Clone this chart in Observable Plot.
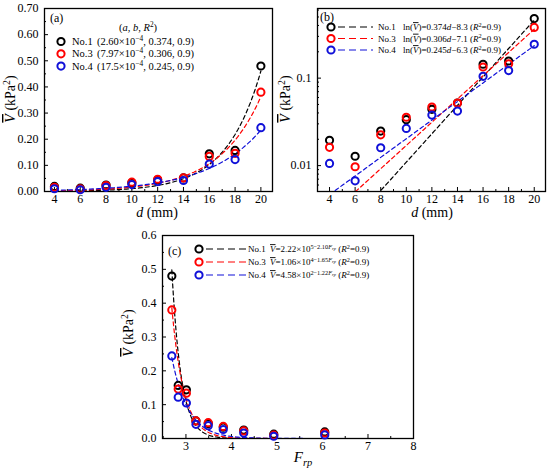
<!DOCTYPE html>
<html><head><meta charset="utf-8">
<script src="https://cdn.jsdelivr.net/npm/d3@7"></script>
<script src="https://cdn.jsdelivr.net/npm/@observablehq/plot@0.6"></script>
<style>
body{margin:0;background:#fff}
#wrap{position:relative;width:550px;height:473px;overflow:hidden;background:#fff}
#wrap svg{position:absolute;font-family:"Liberation Serif","Times New Roman",serif}
</style></head><body><div id="wrap"></div>
<script>
// ---------- data ----------
const dValues = [4, 6, 8, 10, 12, 14, 16, 18, 20];
const frpValues = [6.05, 4.93, 4.27, 3.82, 3.49, 3.22, 3.01, 2.83, 2.69];
const series = ["No.1", "No.3", "No.4"];
const colors = ["#000000", "#ff0000", "#1010d8"];
const vNo1 = [0.0195, 0.0128, 0.0248, 0.0335, 0.0440, 0.0520, 0.144, 0.157, 0.480];
const vNo3 = [0.0162, 0.0097, 0.0225, 0.0357, 0.0468, 0.0520, 0.134, 0.146, 0.380];
const vNo4 = [0.0106, 0.0067, 0.0160, 0.0266, 0.0378, 0.0420, 0.105, 0.122, 0.244];
// exponential fit V = a·exp(b·d)
const fitA = [2.60e-4, 7.97e-4, 17.5e-4];
const fitAText = ["2.60", "7.97", "17.5"];
const fitB = [0.374, 0.306, 0.245];
const fitR2 = [0.9, 0.9, 0.9];
const lnIntercept = ["8.3", "7.1", "6.3"];
// fit V = c·10^(e − k·Frp)
const fitC = [2.22, 1.06, 4.58];
const fitE = [5, 4, 2];
const fitK = [2.10, 1.65, 1.22];
// ticks
const dTicks = [4, 6, 8, 10, 12, 14, 16, 18, 20];
const dMinor = [5, 7, 9, 11, 13, 15, 17, 19];
const vTicksA = [0, 0.1, 0.2, 0.3, 0.4, 0.5, 0.6, 0.7];
const vMinorA = [0.05, 0.15, 0.25, 0.35, 0.45, 0.55, 0.65];
const vTicksB = [0.01, 0.1];
const vMinorB = [0.006, 0.007, 0.008, 0.009, 0.02, 0.03, 0.04, 0.05, 0.06, 0.07, 0.08, 0.09, 0.2, 0.3, 0.4, 0.5, 0.6];
const fTicks = [3, 4, 5, 6, 7, 8];
const fMinor = [2.5, 3.5, 4.5, 5.5, 6.5, 7.5];
const vTicksC = [0, 0.1, 0.2, 0.3, 0.4, 0.5, 0.6];
const vMinorC = [0.05, 0.15, 0.25, 0.35, 0.45, 0.55];

// ---------- tables ----------
const vals = [vNo1, vNo3, vNo4];
const points = series.flatMap((s, i) => dValues.map((d, j) => ({s, d, F: frpValues[j], v: vals[i][j]})));
const curvesD = series.flatMap((s, i) => d3.range(4, 20.001, 0.2).map(d => ({s, d, v: fitA[i] * Math.exp(fitB[i] * d)})));
const curvesF = series.flatMap((s, i) => d3.range(frpValues[8], frpValues[0] + 0.001, 0.02).map(F => ({s, F, v: fitC[i] * Math.pow(10, fitE[i] - fitK[i] * F)})));

const FONT = "Liberation Serif";
const colorScale = {domain: series, range: colors};

function axesMarks(xT, xM, yT, yM, xFmt, yFmt) {
  return [
    Plot.axisX(xT, {tickSize: -4, tickPadding: 7, tickFormat: xFmt, label: null, fontSize: 12}),
    Plot.axisX(xM, {tickSize: -2, tickFormat: () => "", label: null}),
    Plot.axisY(yT, {tickSize: -4, tickPadding: 10, tickFormat: yFmt, label: null, fontSize: 12}),
    Plot.axisY(yM, {tickSize: -2, tickFormat: () => "", label: null}),
    Plot.frame({stroke: "black", strokeWidth: 1.3})
  ];
}

function rich(svg, x, y, parts, {size = 12, anchor = "start", rotate = 0} = {}) {
  const t = d3.select(svg).append("text")
    .attr("x", x).attr("y", y).attr("font-size", size).attr("text-anchor", anchor)
    .attr("fill", "black").attr("font-family", FONT);
  if (rotate) t.attr("transform", `rotate(${rotate},${x},${y})`);
  let shift = 0;
  for (const p of parts) {
    const s = typeof p === "string" ? {t: p} : p;
    const ts = t.append("tspan").text(s.t);
    const off = s.off !== undefined ? s.off * size : (s.sup ? -0.38 * size : s.sub ? 0.25 * size : 0);
    if (off - shift !== 0) ts.attr("dy", off - shift);
    shift = off;
    const sc = s.scale !== undefined ? s.scale : (s.sup || s.sub ? 0.7 : 1);
    if (sc !== 1) ts.attr("font-size", size * sc);
    if (s.i) ts.attr("font-style", "italic");
    if (s.ov) ts.style("text-decoration", "overline");
  }
  return t;
}
function circle(svg, x, y, c) {
  d3.select(svg).append("circle").attr("cx", x).attr("cy", y).attr("r", 3.6)
    .attr("fill", "none").attr("stroke", c).attr("stroke-width", 2);
}
function dash(svg, x1, x2, y, c) {
  d3.select(svg).append("line").attr("x1", x1).attr("x2", x2).attr("y1", y).attr("y2", y)
    .attr("stroke", c).attr("stroke-width", 1.2).attr("stroke-dasharray", "7,4");
}
const wrap = document.getElementById("wrap");
function place(svg, left, top) {
  svg.style.left = left + "px"; svg.style.top = top + "px";
  wrap.appendChild(svg);
}
const vLabel = [{t: "V", i: true, ov: true}, " (kPa", {t: "2", sup: true}, {t: ")", off: 0}];

// ---------- panel (a) ----------
const pa = Plot.plot({
  width: 275, height: 225, marginLeft: 44, marginRight: 3, marginTop: 8, marginBottom: 34,
  style: {fontFamily: FONT, fontSize: "12px", color: "black", background: "transparent", overflow: "visible"},
  x: {domain: [3.23, 20.9]},
  y: {domain: [0, 0.7]},
  color: colorScale,
  marks: [
    ...axesMarks(dTicks, dMinor, vTicksA, vMinorA, d => String(d), d3.format(".2f")),
    Plot.line(curvesD, {x: "d", y: "v", z: "s", stroke: "s", strokeWidth: 1.2, strokeDasharray: "4,3", clip: true}),
    Plot.dot(points, {x: "d", y: "v", stroke: "s", r: 3.6, strokeWidth: 2, fill: "none"})
  ]
});
place(pa, 0, 0);
rich(pa, 50, 22, ["(a)"], {size: 12});
rich(pa, 138, 31, ["(", {t: "a", i: true}, ", ", {t: "b", i: true}, ", ", {t: "R", i: true}, {t: "2", sup: true}, {t: ")", off: 0}], {size: 10.5, anchor: "middle"});
series.forEach((s, i) => {
  const y = 41.5 + i * 12.3;
  circle(pa, 61, y, colors[i]);
  rich(pa, 72, y + 3.6, [s], {size: 10.5});
  rich(pa, 97, y + 3.6, ["(" + fitAText[i] + "×10", {t: "−4", sup: true}, {t: ", " + fitB[i].toFixed(3) + ", " + fitR2[i] + ")", off: 0}], {size: 10.5});
});
rich(pa, 15, 99, vLabel, {size: 14, anchor: "middle", rotate: -90});
rich(pa, 157, 217, [{t: "d", i: true}, " (mm)"], {size: 14, anchor: "middle"});

// ---------- panel (b) ----------
const pb = Plot.plot({
  width: 275, height: 225, marginLeft: 42, marginRight: 5, marginTop: 8, marginBottom: 34,
  style: {fontFamily: FONT, fontSize: "12px", color: "black", background: "transparent", overflow: "visible"},
  x: {domain: [3.06, 20.88]},
  y: {type: "log", domain: [0.00506, 0.625]},
  color: colorScale,
  marks: [
    ...axesMarks(dTicks, dMinor, vTicksB, vMinorB, d => String(d), d => String(d)),
    Plot.line(curvesD, {x: "d", y: "v", z: "s", stroke: "s", strokeWidth: 1.2, strokeDasharray: "4,3", clip: true}),
    Plot.dot(points, {x: "d", y: "v", stroke: "s", r: 3.6, strokeWidth: 2, fill: "none"})
  ]
});
place(pb, 275, 0);
rich(pb, 45, 21, ["(b)"], {size: 12});
series.forEach((s, i) => {
  const y = 27 + i * 11.5;
  circle(pb, 56, y, colors[i]);
  dash(pb, 63, 98, y, colors[i]);
  rich(pb, 103, y + 3.2, [s], {size: 9});
  rich(pb, 128, y + 3.2, ["ln(", {t: "V", i: true, ov: true}, ")=" + fitB[i].toFixed(3), {t: "d", i: true}, "−" + lnIntercept[i] + " (", {t: "R", i: true}, {t: "2", sup: true}, {t: "=" + fitR2[i] + ")", off: 0}], {size: 9});
});
rich(pb, 15, 99, vLabel, {size: 14, anchor: "middle", rotate: -90});
rich(pb, 157, 217, [{t: "d", i: true}, " (mm)"], {size: 14, anchor: "middle"});

// ---------- panel (c) ----------
const pc = Plot.plot({
  width: 300, height: 243, marginLeft: 42, marginRight: 7, marginTop: 5, marginBottom: 35,
  style: {fontFamily: FONT, fontSize: "12px", color: "black", background: "transparent", overflow: "visible"},
  x: {domain: [2.485, 8]},
  y: {domain: [0, 0.6]},
  color: colorScale,
  marks: [
    ...axesMarks(fTicks, fMinor, vTicksC, vMinorC, d => String(d), d3.format(".1f")),
    Plot.line(curvesF, {x: "F", y: "v", z: "s", stroke: "s", strokeWidth: 1.2, strokeDasharray: "4,3", clip: true}),
    Plot.dot(points, {x: "F", y: "v", stroke: "s", r: 3.6, strokeWidth: 2, fill: "none"})
  ]
});
place(pc, 120, 230);
rich(pc, 48, 25, ["(c)"], {size: 12});
series.forEach((s, i) => {
  const y = 19 + i * 13;
  circle(pc, 79, y, colors[i]);
  dash(pc, 86, 126, y, colors[i]);
  rich(pc, 128, y + 3.2, [s], {size: 9});
  rich(pc, 150, y + 3.2, [{t: "V", i: true, ov: true}, "=" + fitC[i].toFixed(2) + "×10",
    {t: fitE[i] + "−" + fitK[i].toFixed(2), off: -0.4, scale: 0.7},
    {t: "F", off: -0.4, scale: 0.7, i: true},
    {t: "rp", off: -0.25, scale: 0.5, i: true},
    {t: " (", off: 0}, {t: "R", i: true}, {t: "2", sup: true}, {t: "=" + fitR2[i] + ")", off: 0}], {size: 9});
});
rich(pc, 13, 103, vLabel, {size: 14, anchor: "middle", rotate: -90});
rich(pc, 183, 232, [{t: "F", i: true}, {t: "rp", sub: true, i: true}], {size: 15, anchor: "middle"});
</script></body></html>
